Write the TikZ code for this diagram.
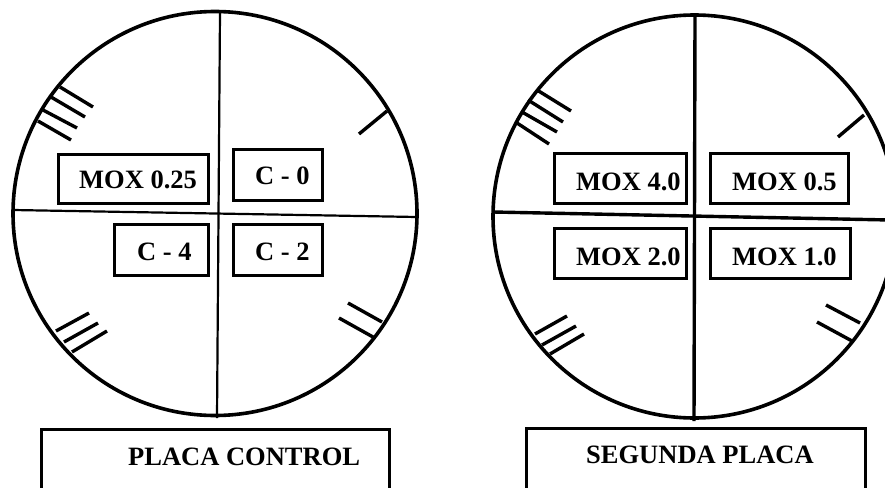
\documentclass[tikz,border=0pt]{standalone}
\usepackage{fontspec}
\setmainfont{Liberation Serif}
\begin{document}
\begin{tikzpicture}[x=1pt,y=-1pt,
  cell/.style={draw,line width=3.2pt,inner sep=0pt,anchor=north west},
  lbl/.style={font=\fontsize{26.5}{30}\selectfont\bfseries,inner sep=0pt,anchor=west},
  rim/.style={line width=3.6pt},
  tickmark/.style={line width=3.4pt},
  axisthin/.style={line width=2.2pt},
  axisthick/.style={line width=3.4pt}]
\useasboundingbox (0,0) rectangle (885,487);
\clip (0,0) rectangle (885,487);
% ---------- left plate ----------
\draw[rim] (215,213.5) circle[radius=202pt];
\draw[axisthin] (220,12) -- (217,418);
\draw[axisthin] (13,210) -- (417,217);
\draw[tickmark] (60,87)--(93,107) (51,97)--(85,117) (43,110)--(77,128) (38,121)--(71,140);
\draw[tickmark] (56,331)--(89,313) (64,342)--(98,323) (72,352)--(107,331);
\draw[tickmark] (387,111)--(359,134);
\draw[tickmark] (382,322)--(348,303) (373,337)--(339,318);
\node[cell,minimum width=150pt,minimum height=49pt] (la) at (57,153) {};
\node[lbl] (lat) at (79,180) {MOX 0.25};
\node[cell,minimum width=89pt,minimum height=51pt] (lb) at (232,148) {};
\node[lbl] (lbt) at (255,176) {C - 0};
\node[cell,minimum width=94pt,minimum height=51pt] (lc) at (113,223) {};
\node[lbl] (lct) at (137,252) {C - 4};
\node[cell,minimum width=89pt,minimum height=51pt] (ld) at (232,223) {};
\node[lbl] (ldt) at (255,252) {C - 2};
\node[cell,minimum width=348pt,minimum height=90pt] (lcap) at (40,428) {};
\node[lbl] (lcapt) at (128,457) {PLACA CONTROL};
% ---------- right plate ----------
\draw[rim] (694.5,216.5) circle[radius=201.5pt];
\draw[axisthick] (695,15) -- (694,421);
\draw[axisthick] (493,212) -- (890,220);
\draw[tickmark] (537,90)--(571,111) (528,100)--(563,122) (522,112)--(557,132) (517,123)--(549,144);
\draw[tickmark] (535,334)--(567,316) (542,345)--(576,326) (550,354)--(584,334);
\draw[tickmark] (864,115)--(838,137);
\draw[tickmark] (860,323)--(826,305) (852,341)--(817,322);
\node[cell,minimum width=132pt,minimum height=50pt] (ra) at (553,152) {};
\node[lbl] (rat) at (576,182) {MOX 4.0};
\node[cell,minimum width=138pt,minimum height=50pt] (rb) at (709,152) {};
\node[lbl] (rbt) at (732,182) {MOX 0.5};
\node[cell,minimum width=132pt,minimum height=50pt] (rc) at (553,227) {};
\node[lbl] (rct) at (576,257) {MOX 2.0};
\node[cell,minimum width=140pt,minimum height=50pt] (rd) at (709,227) {};
\node[lbl] (rdt) at (732,257) {MOX 1.0};
\node[cell,minimum width=339pt,minimum height=90pt] (rcap) at (525,427) {};
\node[lbl] (rcapt) at (586,455) {SEGUNDA PLACA};
\end{tikzpicture}
\end{document}
